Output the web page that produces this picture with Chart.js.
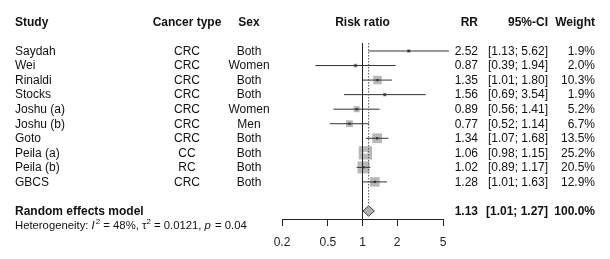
<!DOCTYPE html>
<html>
<head>
<meta charset="utf-8">
<script src="https://cdn.jsdelivr.net/npm/chart.js@4/dist/chart.umd.min.js"></script>
<style>
  html, body { margin: 0; padding: 0; background: #fff; }
  #wrap { width: 610px; height: 259px; }
</style>
</head>
<body>
<div id="wrap"><canvas id="c" width="610" height="259"></canvas></div>
<script>
// ---- Data ----
const studies = ["Saydah", "Wei", "Rinaldi", "Stocks", "Joshu (a)", "Joshu (b)", "Goto", "Peila (a)", "Peila (b)", "GBCS"];
const cancerTypes = ["CRC", "CRC", "CRC", "CRC", "CRC", "CRC", "CRC", "CC", "RC", "CRC"];
const sexes = ["Both", "Women", "Both", "Both", "Women", "Men", "Both", "Both", "Both", "Both"];
const rr = [2.52, 0.87, 1.35, 1.56, 0.89, 0.77, 1.34, 1.06, 1.02, 1.28];
const ciLow = [1.13, 0.39, 1.01, 0.69, 0.56, 0.52, 1.07, 0.98, 0.89, 1.01];
const ciHigh = [5.62, 1.94, 1.80, 3.54, 1.41, 1.14, 1.68, 1.15, 1.17, 1.63];
const weights = [1.9, 2.0, 10.3, 1.9, 5.2, 6.7, 13.5, 25.2, 20.5, 12.9];
const summaryLabel = "Random effects model";
const summaryRR = 1.13;
const summaryLow = 1.01;
const summaryHigh = 1.27;
const summaryWeight = 100.0;
const heterogeneityI2 = 48;
const heterogeneityTau2 = 0.0121;
const heterogeneityP = 0.04;
const xTicks = [0.2, 0.5, 1, 2, 5];
const headers = ["Study", "Cancer type", "Sex", "Risk ratio", "RR", "95%-CI", "Weight"];

// ---- Layout helpers ----
const FONT = '"Liberation Sans", Arial, Helvetica, sans-serif';
const SUMMARY_ROW = studies.length + 1;
const HEADER_ROW = -2;
const SQUARE_K = 2.65; // px per sqrt(weight %)
const LINE_COL = '#333';
const sideOf = w => SQUARE_K * Math.sqrt(w);

function insideSquare(chart, i) {
  const xs = chart.scales.x;
  if (!xs) return false;
  const c = xs.getPixelForValue(rr[i]);
  const half = sideOf(weights[i]) / 2;
  return xs.getPixelForValue(ciLow[i]) >= c - half && xs.getPixelForValue(ciHigh[i]) <= c + half;
}

const datasets = [];

// squares (weights)
datasets.push({
  type: 'scatter',
  data: rr.map((v, i) => ({ x: v, y: i })),
  pointStyle: 'rect',
  pointRadius: weights.map(w => sideOf(w) / Math.SQRT2),
  pointHoverRadius: weights.map(w => sideOf(w) / Math.SQRT2),
  backgroundColor: '#b8b8b8',
  borderColor: '#b8b8b8',
  borderWidth: 0,
  order: 5,
  clip: false
});

// CI lines, one per study
studies.forEach((s, i) => {
  datasets.push({
    type: 'scatter',
    showLine: true,
    data: [{ x: ciLow[i], y: i }, { x: ciHigh[i], y: i }],
    pointRadius: 0,
    borderWidth: 1,
    borderColor: (ctx) => insideSquare(ctx.chart, i) ? '#ffffff' : LINE_COL,
    order: 3,
    clip: false
  });
});

// point estimate marks
datasets.push({
  type: 'scatter',
  data: rr.map((v, i) => ({ x: v, y: i })),
  pointStyle: 'rect',
  pointRadius: 1.6,
  borderWidth: 0,
  backgroundColor: (ctx) => (ctx.type === 'data' && insideSquare(ctx.chart, ctx.dataIndex)) ? '#ffffff' : '#333',
  order: 2,
  clip: false
});

// line of no effect (solid)
datasets.push({
  type: 'scatter', showLine: true,
  data: [{ x: 1, y: -0.55 }, { x: 1, y: SUMMARY_ROW + 0.55 }],
  pointRadius: 0, borderWidth: 1, borderColor: '#222', order: 2, clip: false
});

// summary estimate line (dotted)
datasets.push({
  type: 'scatter', showLine: true,
  data: [{ x: summaryRR, y: -0.55 }, { x: summaryRR, y: SUMMARY_ROW - 0.4 }],
  pointRadius: 0, borderWidth: 1, borderColor: '#555', borderDash: [1.5, 1.5], order: 2, clip: false
});

// summary diamond
datasets.push({
  type: 'scatter', showLine: true,
  data: [
    { x: summaryLow, y: SUMMARY_ROW },
    { x: summaryRR, y: SUMMARY_ROW - 0.36 },
    { x: summaryHigh, y: SUMMARY_ROW },
    { x: summaryRR, y: SUMMARY_ROW + 0.36 },
    { x: summaryLow, y: SUMMARY_ROW }
  ],
  pointRadius: 0, borderWidth: 1, borderColor: '#444', backgroundColor: '#b0b0b0',
  fill: 'shape', tension: 0, order: 1, clip: false
});

const fmt2 = v => v.toFixed(2);
const pct = v => v.toFixed(1) + '%';

const textPlugin = {
  id: 'forestText',
  afterDraw(chart) {
    const ctx = chart.ctx;
    const ys = chart.scales.y;
    const xs = chart.scales.x;
    const rowY = r => ys.getPixelForValue(r) + 0.5;
    ctx.save();
    ctx.fillStyle = '#111';
    ctx.textBaseline = 'middle';
    const put = (t, x, y, align, bold, size, italic) => {
      ctx.font = (italic ? 'italic ' : '') + (bold ? 'bold ' : '') + (size || 12) + 'px ' + FONT;
      ctx.textAlign = align;
      ctx.fillText(t, x, y);
    };
    const COL = { study: 15, cancer: 187, sex: 249, rr: 478, ci: 548, w: 595 };
    // headers
    const hy = rowY(HEADER_ROW);
    put(headers[0], COL.study, hy, 'left', true);
    put(headers[1], COL.cancer, hy, 'center', true);
    put(headers[2], COL.sex, hy, 'center', true);
    put(headers[3], xs.getPixelForValue(1), hy, 'center', true);
    put(headers[4], COL.rr, hy, 'right', true);
    put(headers[5], COL.ci, hy, 'right', true);
    put(headers[6], COL.w, hy, 'right', true);
    // rows
    studies.forEach((s, i) => {
      const y = rowY(i);
      put(s, COL.study, y, 'left');
      put(cancerTypes[i], COL.cancer, y, 'center');
      put(sexes[i], COL.sex, y, 'center');
      put(fmt2(rr[i]), COL.rr, y, 'right');
      put('[' + fmt2(ciLow[i]) + '; ' + fmt2(ciHigh[i]) + ']', COL.ci, y, 'right');
      put(pct(weights[i]), COL.w, y, 'right');
    });
    // summary
    const sy = rowY(SUMMARY_ROW);
    put(summaryLabel, COL.study, sy, 'left', true);
    put(fmt2(summaryRR), COL.rr, sy, 'right', true);
    put('[' + fmt2(summaryLow) + '; ' + fmt2(summaryHigh) + ']', COL.ci, sy, 'right', true);
    put(pct(summaryWeight), COL.w, sy, 'right', true);
    // heterogeneity
    const hy2 = rowY(SUMMARY_ROW + 1);
    const fs = 11.3;
    const segs = [
      { t: 'Heterogeneity: ' },
      { t: 'I', it: true },
      { t: '2', sup: true },
      { t: ' = ' + heterogeneityI2 + '%, \u03C4' },
      { t: '2', sup: true },
      { t: ' = ' + heterogeneityTau2 + ', ' },
      { t: 'p', it: true },
      { t: ' = ' + heterogeneityP }
    ];
    let x = COL.study;
    ctx.textAlign = 'left';
    segs.forEach(sg => {
      const size = sg.sup ? 8 : fs;
      ctx.font = (sg.it ? 'italic ' : '') + size + 'px ' + FONT;
      ctx.fillText(sg.t, x, sg.sup ? hy2 - 4 : hy2);
      x += ctx.measureText(sg.t).width + (sg.it ? 1 : 0);
    });
    ctx.restore();
  }
};

new Chart(document.getElementById('c'), {
  type: 'scatter',
  data: { datasets },
  options: {
    responsive: false,
    animation: false,
    events: [],
    layout: { padding: { left: 282, right: 167, top: 43, bottom: 0 } },
    plugins: { legend: { display: false }, tooltip: { enabled: false } },
    scales: {
      x: {
        type: 'logarithmic',
        min: xTicks[0],
        max: xTicks[xTicks.length - 1],
        afterBuildTicks: (scale) => { scale.ticks = xTicks.map(v => ({ value: v })); },
        afterFit: (scale) => { scale.height = 40; },
        ticks: {
          autoSkip: false,
          maxRotation: 0,
          padding: 9,
          color: '#222',
          font: { family: FONT, size: 12 },
          callback: (v) => String(v)
        },
        grid: { drawOnChartArea: false, drawTicks: true, tickLength: 7, color: '#222', lineWidth: 1 },
        border: { display: true, color: '#222', width: 1 }
      },
      y: {
        type: 'linear',
        display: false,
        reverse: true,
        min: -0.55,
        max: SUMMARY_ROW + 0.55
      }
    }
  },
  plugins: [textPlugin]
});
</script>
</body>
</html>
